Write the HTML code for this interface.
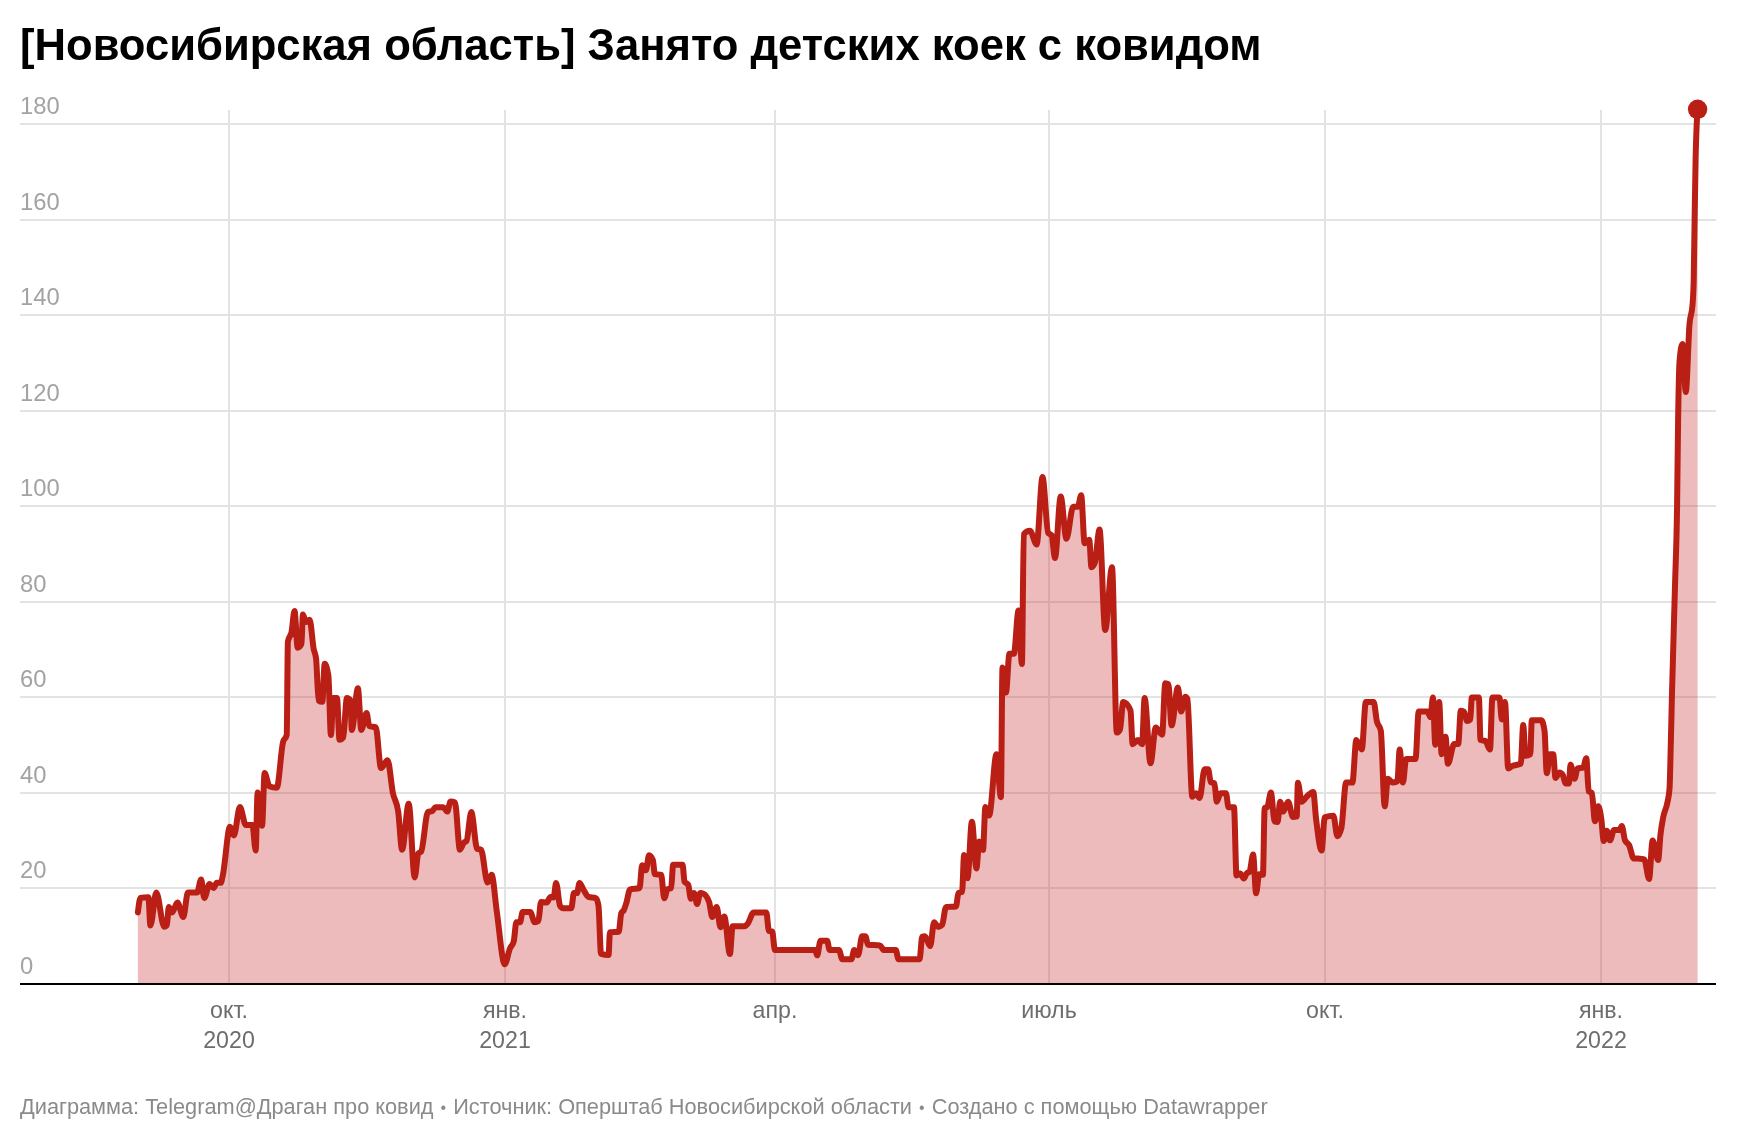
<!DOCTYPE html>
<html><head><meta charset="utf-8"><style>
html,body{margin:0;padding:0;background:#fff;}
body{width:1740px;height:1140px;overflow:hidden;}
svg{display:block;will-change:transform;}
.t{font-family:"Liberation Sans",sans-serif;font-weight:bold;font-size:43.6px;fill:#000;}
.yl text{font-family:"Liberation Sans",sans-serif;font-size:23.8px;fill:#a3a3a3;}
.xl text{font-family:"Liberation Sans",sans-serif;font-size:23.2px;fill:#6d6d6d;text-anchor:middle;}
.ft{font-family:"Liberation Sans",sans-serif;font-size:21.75px;fill:#8a8a8a;}
</style></head><body>
<svg width="1740" height="1140" viewBox="0 0 1740 1140">
<rect width="1740" height="1140" fill="#fff"/>
<text class="t" x="20" y="60">[Новосибирская область] Занято детских коек с ковидом</text>
<g class="yl"><text x="20" y="974.0">0</text><text x="20" y="878.4">20</text><text x="20" y="782.9">40</text><text x="20" y="687.3">60</text><text x="20" y="591.7">80</text><text x="20" y="496.2">100</text><text x="20" y="400.6">120</text><text x="20" y="305.0">140</text><text x="20" y="209.5">160</text><text x="20" y="113.9">180</text></g>
<g stroke="#e3e3e3" stroke-width="2" shape-rendering="crispEdges"><line x1="20" x2="1716" y1="888.4" y2="888.4"/><line x1="20" x2="1716" y1="792.9" y2="792.9"/><line x1="20" x2="1716" y1="697.3" y2="697.3"/><line x1="20" x2="1716" y1="601.7" y2="601.7"/><line x1="20" x2="1716" y1="506.2" y2="506.2"/><line x1="20" x2="1716" y1="410.6" y2="410.6"/><line x1="20" x2="1716" y1="315.0" y2="315.0"/><line x1="20" x2="1716" y1="219.5" y2="219.5"/><line x1="20" x2="1716" y1="123.9" y2="123.9"/><line x1="229" x2="229" y1="110" y2="984"/><line x1="505" x2="505" y1="110" y2="984"/><line x1="775" x2="775" y1="110" y2="984"/><line x1="1049" x2="1049" y1="110" y2="984"/><line x1="1325" x2="1325" y1="110" y2="984"/><line x1="1601" x2="1601" y1="110" y2="984"/></g>
<path d="M137.9,912.4C138.8,905.2 139.6,898.1 140.5,897.9C143.1,897.4 145.8,897.2 148.4,897.2C149.1,897.2 149.7,925.5 150.4,925.5C152.4,925.5 154.3,892.6 156.3,892.6C158.9,892.6 161.6,926.8 164.2,926.8C165.1,926.8 165.9,926.4 166.8,925.5C167.5,924.8 168.1,907.1 168.8,907.1C169.9,907.1 171.0,912.4 172.1,912.4C173.9,912.4 175.6,902.5 177.4,902.5C179.4,902.5 181.3,917.0 183.3,917.0C184.8,917.0 186.4,892.6 187.9,892.6C191.0,892.6 194.0,892.6 197.1,892.6C198.4,892.6 199.8,879.5 201.1,879.5C202.2,879.5 203.2,897.9 204.3,897.9C206.1,897.9 207.8,884.1 209.6,884.1C210.9,884.1 212.3,888.0 213.6,888.0C214.7,888.0 215.7,882.8 216.8,882.8C218.1,882.8 219.5,882.8 220.8,882.8C221.5,882.8 222.1,878.4 222.8,875.5C225.2,865.1 227.6,826.8 230.0,826.8C231.3,826.8 232.6,835.4 233.9,835.4C235.9,835.4 237.9,807.1 239.9,807.1C241.9,807.1 243.8,824.9 245.8,824.9C248.0,824.9 250.2,824.9 252.4,824.9C253.5,824.9 254.6,850.5 255.7,850.5C256.3,850.5 257.0,792.6 257.6,792.6C259.1,792.6 260.6,825.8 262.1,825.8C262.9,825.8 263.8,773.0 264.6,773.0C266.2,773.0 267.9,786.0 269.5,786.5C271.9,787.3 274.4,787.7 276.8,787.7C278.9,787.7 280.9,750.5 283.0,742.3C284.2,737.4 285.5,739.9 286.7,735.0C287.1,733.4 287.5,643.7 287.9,641.6C289.1,635.1 290.4,638.2 291.6,631.8C292.6,626.8 293.5,610.9 294.5,610.9C295.6,610.9 296.6,647.7 297.7,647.7C298.9,647.7 300.2,646.5 301.4,644.0C301.9,643.0 302.4,614.6 302.9,614.6C303.9,614.6 304.9,622.1 305.9,622.1C307.1,622.1 308.4,619.8 309.6,619.8C311.0,619.8 312.3,641.9 313.7,649.0C314.5,653.2 315.3,652.3 316.1,658.8C316.9,665.6 317.8,699.9 318.6,700.5C319.8,701.4 321.1,701.8 322.3,701.8C323.1,701.8 323.9,663.7 324.7,663.7C325.9,663.7 327.2,667.8 328.4,676.0C329.2,681.5 330.1,735.0 330.9,735.0C331.7,735.0 332.5,698.0 333.3,698.0C334.5,698.0 335.8,698.0 337.0,698.0C337.8,698.0 338.7,739.8 339.5,739.8C340.7,739.8 342.0,739.0 343.2,737.4C344.4,735.8 345.7,698.0 346.9,698.0C348.1,698.0 349.3,698.8 350.5,700.5C350.9,701.1 351.4,730.0 351.8,730.0C353.8,730.0 355.9,688.3 357.9,688.3C359.0,688.3 360.2,730.0 361.3,730.0C363.1,730.0 364.8,712.9 366.6,712.9C367.5,712.9 368.3,725.6 369.2,726.0C371.4,726.9 373.6,726.5 375.8,727.4C377.5,728.1 379.3,768.0 381.0,768.0C383.2,768.0 385.4,760.3 387.6,760.3C389.4,760.3 391.1,784.5 392.9,793.0C394.7,801.6 396.4,799.2 398.2,811.6C399.5,820.7 400.8,849.7 402.1,849.7C404.3,849.7 406.5,803.7 408.7,803.7C410.7,803.7 412.7,877.4 414.7,877.4C415.9,877.4 417.1,855.2 418.3,853.5C419.3,852.2 420.2,852.8 421.2,851.5C423.4,848.4 425.7,813.1 427.9,812.1C429.3,811.4 430.8,811.8 432.2,811.1C433.3,810.6 434.5,807.3 435.6,807.3C438.2,807.3 440.7,807.3 443.3,807.3C444.6,807.3 445.9,811.6 447.2,811.6C448.3,811.6 449.5,801.5 450.6,801.5C452.1,801.5 453.5,801.8 455.0,802.5C456.6,803.2 458.3,849.7 459.9,849.7C461.3,849.7 462.6,843.9 464.0,842.5C464.8,841.7 465.7,842.0 466.5,841.1C468.1,839.3 469.7,812.1 471.3,812.1C473.2,812.1 475.2,847.9 477.1,848.8C478.4,849.4 479.7,849.1 481.0,849.7C483.2,850.7 485.4,882.6 487.6,882.6C488.9,882.6 490.3,874.7 491.6,874.7C493.3,874.7 495.1,899.6 496.8,911.6C499.4,929.8 502.1,964.2 504.7,964.2C506.5,964.2 508.2,952.5 510.0,948.4C511.3,945.4 512.5,946.0 513.8,941.2C514.6,938.0 515.5,922.2 516.3,922.2C517.6,922.2 518.8,922.2 520.1,922.2C520.9,922.2 521.8,912.0 522.6,912.0C525.1,912.0 527.7,912.0 530.2,912.0C531.7,912.0 533.2,922.2 534.7,922.2C535.9,922.2 537.2,921.8 538.4,920.9C539.3,920.3 540.1,902.0 541.0,902.0C542.9,902.0 544.8,902.6 546.7,902.6C548.0,902.6 549.2,896.9 550.5,896.9C551.5,896.9 552.6,897.5 553.6,897.5C554.4,897.5 555.3,883.0 556.1,883.0C557.4,883.0 558.7,903.5 560.0,905.7C561.0,907.4 562.1,908.3 563.1,908.3C565.8,908.3 568.6,908.3 571.3,908.3C572.2,908.3 573.0,893.1 573.9,893.1C574.9,893.1 576.0,893.1 577.0,893.1C577.8,893.1 578.7,883.0 579.5,883.0C580.8,883.0 582.0,887.3 583.3,889.3C585.0,892.0 586.7,896.3 588.4,896.9C590.9,897.8 593.5,897.3 596.0,898.2C596.8,898.5 597.7,900.7 598.5,905.7C599.3,910.7 600.2,953.5 601.0,953.8C603.5,954.6 606.1,955.0 608.6,955.0C609.0,955.0 609.5,932.4 609.9,932.3C612.8,931.9 615.8,932.1 618.7,931.7C619.6,931.6 620.4,915.4 621.3,913.3C622.1,911.2 623.0,911.9 623.8,910.2C624.6,908.5 625.5,905.8 626.3,903.2C627.6,899.2 628.8,889.6 630.1,889.3C633.3,888.4 636.4,888.9 639.6,888.0C640.4,887.8 641.3,865.3 642.1,865.3C643.4,865.3 644.6,870.3 645.9,870.3C647.0,870.3 648.0,855.2 649.1,855.2C650.4,855.2 651.6,856.9 652.9,860.2C653.5,861.9 654.2,874.0 654.8,874.1C656.9,874.6 659.0,874.3 661.1,874.8C662.2,875.0 663.2,898.2 664.3,898.2C665.3,898.2 666.4,890.0 667.4,889.3C668.7,888.4 669.9,888.9 671.2,888.0C671.8,887.6 672.5,864.7 673.1,864.7C676.3,864.7 679.4,864.7 682.6,864.7C683.2,864.7 683.9,880.6 684.5,881.7C685.8,883.8 687.0,882.8 688.3,884.9C689.1,886.3 690.0,898.8 690.8,898.8C691.9,898.8 692.9,893.1 694.0,893.1C695.0,893.1 696.1,903.9 697.1,903.9C698.2,903.9 699.2,893.1 700.3,893.1C701.4,893.1 702.4,893.3 703.5,893.7C705.4,894.4 707.2,896.5 709.1,902.0C710.2,905.2 711.2,917.1 712.3,917.1C713.8,917.1 715.2,907.0 716.7,907.0C718.0,907.0 719.2,927.2 720.5,927.2C721.8,927.2 723.0,916.5 724.3,916.5C726.2,916.5 728.0,954.0 729.9,954.0C730.8,954.0 731.7,926.3 732.6,926.3C736.6,926.3 740.5,926.3 744.5,926.3C745.6,926.3 746.7,924.9 747.8,923.6C749.8,921.2 751.7,912.4 753.7,912.4C757.9,912.4 762.1,912.4 766.3,912.4C767.2,912.4 768.0,930.5 768.9,930.9C770.0,931.4 771.1,931.1 772.2,931.6C773.1,932.0 774.0,950.1 774.9,950.1C788.3,950.1 801.8,950.1 815.2,950.1C815.9,950.1 816.5,955.3 817.2,955.3C818.3,955.3 819.4,940.8 820.5,940.8C822.7,940.8 824.9,940.8 827.1,940.8C828.0,940.8 828.8,950.1 829.7,950.1C832.8,950.1 835.9,950.1 839.0,950.1C840.1,950.1 841.2,959.3 842.3,959.3C845.4,959.3 848.4,959.3 851.5,959.3C852.4,959.3 853.3,950.1 854.2,950.1C855.5,950.1 856.8,955.3 858.1,955.3C859.4,955.3 860.8,936.2 862.1,936.2C863.2,936.2 864.3,936.2 865.4,936.2C866.3,936.2 867.1,944.7 868.0,944.8C872.0,945.2 876.0,945.0 880.0,945.4C881.3,945.5 882.6,950.1 883.9,950.1C887.9,950.1 891.8,950.1 895.8,950.1C896.7,950.1 897.6,959.3 898.5,959.3C905.5,959.3 912.6,959.3 919.6,959.3C920.5,959.3 921.3,937.2 922.2,936.8C923.1,936.4 924.0,936.2 924.9,936.2C926.7,936.2 928.4,946.1 930.2,946.1C931.5,946.1 932.8,922.3 934.1,922.3C935.4,922.3 936.8,926.9 938.1,926.9C939.4,926.9 940.8,926.2 942.1,924.9C943.4,923.6 944.7,907.3 946.0,907.1C949.3,906.7 952.7,906.9 956.0,906.5C956.8,906.4 957.6,893.5 958.4,893.0C959.6,892.2 960.9,892.6 962.1,891.8C962.8,891.4 963.4,855.0 964.1,855.0C965.2,855.0 966.4,878.3 967.5,878.3C969.0,878.3 970.4,821.8 971.9,821.8C973.4,821.8 974.9,868.4 976.4,868.4C977.4,868.4 978.3,841.4 979.3,841.4C980.5,841.4 981.8,850.0 983.0,850.0C983.8,850.0 984.6,807.0 985.4,807.0C986.6,807.0 987.9,815.6 989.1,815.6C991.6,815.6 994.0,754.2 996.5,754.2C998.0,754.2 999.4,797.2 1000.9,797.2C1001.4,797.2 1002.0,667.5 1002.5,667.5C1003.7,667.5 1004.8,692.6 1006.0,692.6C1007.1,692.6 1008.3,653.8 1009.4,653.8C1010.9,653.8 1012.4,653.8 1013.9,653.8C1015.4,653.8 1017.0,610.5 1018.5,610.5C1019.6,610.5 1020.8,664.1 1021.9,664.1C1022.5,664.1 1023.2,534.8 1023.8,534.1C1025.8,531.8 1027.9,530.7 1029.9,530.7C1032.2,530.7 1034.4,544.4 1036.7,544.4C1038.6,544.4 1040.6,477.1 1042.5,477.1C1044.4,477.1 1046.3,530.4 1048.2,533.0C1049.3,534.5 1050.5,533.8 1051.6,535.3C1052.7,536.8 1053.9,558.1 1055.0,558.1C1056.9,558.1 1058.8,496.5 1060.7,496.5C1062.6,496.5 1064.5,538.7 1066.4,538.7C1068.7,538.7 1070.9,506.8 1073.2,506.8C1074.7,506.8 1076.3,506.8 1077.8,506.8C1078.9,506.8 1080.1,495.3 1081.2,495.3C1082.3,495.3 1083.5,543.2 1084.6,543.2C1086.1,543.2 1087.7,539.8 1089.2,539.8C1090.0,539.8 1090.7,567.2 1091.5,567.2C1092.6,567.2 1093.8,565.7 1094.9,562.6C1096.4,558.5 1098.0,529.6 1099.5,529.6C1101.4,529.6 1103.3,629.9 1105.2,629.9C1107.5,629.9 1109.7,567.2 1112.0,567.2C1113.6,567.2 1115.2,732.6 1116.8,732.6C1117.9,732.6 1118.9,731.6 1120.0,729.5C1121.1,727.4 1122.1,702.1 1123.2,702.1C1125.6,702.1 1128.1,704.9 1130.5,710.5C1131.2,712.1 1131.9,744.2 1132.6,744.2C1134.4,744.2 1136.1,740.0 1137.9,740.0C1139.3,740.0 1140.7,744.2 1142.1,744.2C1142.9,744.2 1143.8,697.9 1144.6,697.9C1146.6,697.9 1148.5,763.2 1150.5,763.2C1152.3,763.2 1154.0,727.4 1155.8,727.4C1157.9,727.4 1160.0,734.7 1162.1,734.7C1163.2,734.7 1164.2,683.2 1165.3,683.2C1166.3,683.2 1167.4,683.5 1168.4,684.2C1169.5,684.9 1170.5,725.3 1171.6,725.3C1173.7,725.3 1175.8,687.4 1177.9,687.4C1179.0,687.4 1180.0,711.6 1181.1,711.6C1182.5,711.6 1183.9,696.8 1185.3,696.8C1186.0,696.8 1186.7,697.5 1187.4,699.0C1189.0,702.4 1190.7,796.8 1192.3,796.8C1193.5,796.8 1194.8,793.2 1196.0,793.2C1197.2,793.2 1198.4,798.0 1199.6,798.0C1201.3,798.0 1202.9,769.2 1204.6,769.2C1205.8,769.2 1207.0,769.2 1208.2,769.2C1209.0,769.2 1209.9,781.6 1210.7,782.1C1211.9,782.9 1213.2,782.5 1214.4,783.3C1215.2,783.8 1216.0,801.8 1216.8,801.8C1218.0,801.8 1219.3,793.2 1220.5,793.2C1222.3,793.2 1224.2,793.2 1226.0,793.2C1226.8,793.2 1227.7,807.3 1228.5,807.3C1230.3,807.3 1232.2,807.3 1234.0,807.3C1234.8,807.3 1235.7,875.4 1236.5,875.4C1237.7,875.4 1239.0,873.6 1240.2,873.6C1241.4,873.6 1242.7,878.5 1243.9,878.5C1244.9,878.5 1245.9,873.8 1246.9,873.0C1247.8,872.3 1248.6,872.7 1249.5,872.0C1250.7,871.1 1251.9,854.6 1253.1,854.6C1254.1,854.6 1255.1,893.2 1256.1,893.2C1257.1,893.2 1258.2,874.2 1259.2,874.2C1260.4,874.2 1261.7,874.8 1262.9,874.8C1263.5,874.8 1264.1,808.2 1264.7,807.9C1265.5,807.5 1266.4,807.7 1267.2,807.3C1268.4,806.7 1269.7,792.5 1270.9,792.5C1272.1,792.5 1273.4,820.9 1274.6,821.4C1275.6,821.8 1276.6,822.0 1277.6,822.0C1278.4,822.0 1279.3,801.8 1280.1,801.8C1281.1,801.8 1282.2,811.6 1283.2,811.6C1284.8,811.6 1286.5,801.8 1288.1,801.8C1289.7,801.8 1291.4,817.1 1293.0,817.1C1294.2,817.1 1295.5,816.9 1296.7,816.5C1297.1,816.4 1297.5,782.7 1297.9,782.7C1299.1,782.7 1300.4,801.8 1301.6,801.8C1303.6,801.8 1305.7,797.3 1307.7,795.6C1309.5,794.1 1311.4,791.9 1313.2,791.9C1314.2,791.9 1315.1,811.2 1316.1,819.0C1317.9,833.8 1319.8,850.5 1321.6,850.5C1322.6,850.5 1323.7,817.8 1324.7,817.4C1327.6,816.3 1330.5,815.8 1333.4,815.8C1334.7,815.8 1336.1,836.3 1337.4,836.3C1338.7,836.3 1340.0,833.7 1341.3,828.4C1342.9,821.9 1344.5,782.6 1346.1,782.6C1348.2,782.6 1350.3,782.6 1352.4,782.6C1353.7,782.6 1355.0,740.0 1356.3,740.0C1358.1,740.0 1360.0,749.5 1361.8,749.5C1363.1,749.5 1364.5,702.1 1365.8,702.1C1368.4,702.1 1371.1,702.1 1373.7,702.1C1374.7,702.1 1375.8,716.4 1376.8,721.0C1378.1,727.0 1379.5,724.2 1380.8,730.5C1382.1,736.7 1383.4,806.3 1384.7,806.3C1385.8,806.3 1386.8,778.7 1387.9,778.7C1389.5,778.7 1391.0,782.6 1392.6,782.6C1394.2,782.6 1395.8,782.1 1397.4,781.1C1398.2,780.6 1398.9,749.5 1399.7,749.5C1400.8,749.5 1401.8,782.6 1402.9,782.6C1404.0,782.6 1405.0,759.0 1406.1,759.0C1409.2,759.0 1412.4,759.0 1415.5,759.0C1416.6,759.0 1417.6,711.6 1418.7,711.6C1421.6,711.6 1424.5,711.6 1427.4,711.6C1428.4,711.6 1429.5,717.1 1430.5,717.1C1431.3,717.1 1432.1,697.4 1432.9,697.4C1433.7,697.4 1434.5,744.7 1435.3,744.7C1436.6,744.7 1437.9,702.1 1439.2,702.1C1440.0,702.1 1440.8,754.2 1441.6,754.2C1442.9,754.2 1444.2,736.8 1445.5,736.8C1446.3,736.8 1447.1,763.7 1447.9,763.7C1450.0,763.7 1452.1,744.0 1454.2,744.0C1455.5,744.0 1456.9,744.0 1458.2,744.0C1459.1,744.0 1459.9,710.8 1460.8,710.8C1461.8,710.8 1462.9,711.1 1463.9,711.6C1465.0,712.2 1466.0,721.0 1467.1,721.0C1468.2,721.0 1469.2,720.5 1470.3,719.5C1470.8,719.0 1471.3,697.4 1471.8,697.4C1474.2,697.4 1476.5,697.4 1478.9,697.4C1479.4,697.4 1480.0,739.8 1480.5,740.0C1482.1,740.5 1483.7,740.3 1485.3,740.8C1486.9,741.3 1488.4,749.5 1490.0,749.5C1490.8,749.5 1491.6,697.4 1492.4,697.4C1494.8,697.4 1497.1,697.4 1499.5,697.4C1500.3,697.4 1501.0,719.5 1501.8,719.5C1502.9,719.5 1503.9,702.1 1505.0,702.1C1506.1,702.1 1507.1,768.4 1508.2,768.4C1509.5,768.4 1510.8,766.7 1512.1,766.1C1515.0,764.7 1517.9,765.3 1520.8,763.7C1521.6,763.3 1522.4,725.0 1523.2,725.0C1524.0,725.0 1524.7,755.8 1525.5,755.8C1527.1,755.8 1528.7,755.3 1530.3,754.2C1530.8,753.9 1531.3,720.3 1531.8,720.3C1535.0,720.3 1538.1,720.3 1541.3,720.3C1542.4,720.3 1543.4,723.7 1544.5,730.5C1545.3,735.4 1546.0,773.2 1546.8,773.2C1547.9,773.2 1548.9,754.2 1550.0,754.2C1551.1,754.2 1552.1,754.2 1553.2,754.2C1554.0,754.2 1554.7,777.9 1555.5,777.9C1556.8,777.9 1558.2,772.4 1559.5,772.4C1560.5,772.4 1561.6,773.2 1562.6,774.7C1563.7,776.3 1564.7,783.4 1565.8,783.4C1566.9,783.4 1567.9,783.4 1569.0,783.4C1569.5,783.4 1570.0,764.5 1570.5,764.5C1571.8,764.5 1573.2,778.7 1574.5,778.7C1575.5,778.7 1576.6,768.7 1577.6,768.4C1579.5,767.9 1581.3,768.1 1583.2,767.6C1584.2,767.3 1585.3,758.2 1586.3,758.2C1587.1,758.2 1587.9,790.5 1588.7,791.3C1589.7,792.4 1590.8,791.8 1591.8,792.9C1592.9,794.0 1593.9,821.3 1595.0,821.3C1596.1,821.3 1597.1,806.3 1598.2,806.3C1599.2,806.3 1600.3,811.8 1601.3,819.0C1602.1,824.6 1602.9,841.1 1603.7,841.1C1604.7,841.1 1605.8,830.8 1606.8,830.8C1607.9,830.8 1608.9,840.3 1610.0,840.3C1611.3,840.3 1612.7,830.0 1614.0,830.0C1615.8,830.0 1617.7,830.0 1619.5,830.0C1620.3,830.0 1621.0,826.1 1621.8,826.1C1622.9,826.1 1623.9,837.8 1625.0,840.3C1626.3,843.4 1627.7,842.4 1629.0,845.0C1630.6,848.0 1632.1,858.3 1633.7,858.4C1635.1,858.5 1636.5,858.5 1637.9,858.6C1640.0,858.8 1642.1,858.8 1644.2,859.3C1645.8,859.7 1647.5,878.9 1649.1,878.9C1650.3,878.9 1651.4,840.4 1652.6,840.4C1654.5,840.4 1656.3,860.0 1658.2,860.0C1658.9,860.0 1659.7,842.1 1660.4,835.4C1661.3,826.9 1662.3,822.1 1663.2,817.2C1664.6,809.8 1666.0,810.1 1667.4,802.5C1668.1,798.7 1668.8,798.0 1669.5,789.1C1670.0,783.1 1670.4,758.5 1670.9,740.0C1671.2,726.8 1671.6,710.8 1671.9,697.0C1673.0,653.0 1674.0,622.6 1675.1,582.5C1675.8,557.4 1676.4,550.9 1677.1,505.0C1677.4,482.0 1677.8,443.2 1678.1,421.0C1678.6,387.7 1679.1,366.2 1679.6,360.5C1680.6,349.4 1681.5,343.9 1682.5,343.9C1683.6,343.9 1684.7,392.0 1685.8,392.0C1687.0,392.0 1688.3,338.7 1689.5,324.2C1690.5,312.5 1691.5,317.8 1692.5,305.0C1692.9,299.9 1693.3,296.7 1693.7,280.0C1694.0,267.5 1694.3,239.1 1694.6,220.0C1694.9,198.8 1695.3,176.2 1695.6,160.0C1696.3,127.7 1696.9,118.5 1697.6,109.3L1697.6,984L137.9,984Z" fill="#c72b2b" fill-opacity="0.32"/>
<line x1="20" x2="1716" y1="984" y2="984" stroke="#000" stroke-width="2.2"/>
<path d="M137.9,912.4C138.8,905.2 139.6,898.1 140.5,897.9C143.1,897.4 145.8,897.2 148.4,897.2C149.1,897.2 149.7,925.5 150.4,925.5C152.4,925.5 154.3,892.6 156.3,892.6C158.9,892.6 161.6,926.8 164.2,926.8C165.1,926.8 165.9,926.4 166.8,925.5C167.5,924.8 168.1,907.1 168.8,907.1C169.9,907.1 171.0,912.4 172.1,912.4C173.9,912.4 175.6,902.5 177.4,902.5C179.4,902.5 181.3,917.0 183.3,917.0C184.8,917.0 186.4,892.6 187.9,892.6C191.0,892.6 194.0,892.6 197.1,892.6C198.4,892.6 199.8,879.5 201.1,879.5C202.2,879.5 203.2,897.9 204.3,897.9C206.1,897.9 207.8,884.1 209.6,884.1C210.9,884.1 212.3,888.0 213.6,888.0C214.7,888.0 215.7,882.8 216.8,882.8C218.1,882.8 219.5,882.8 220.8,882.8C221.5,882.8 222.1,878.4 222.8,875.5C225.2,865.1 227.6,826.8 230.0,826.8C231.3,826.8 232.6,835.4 233.9,835.4C235.9,835.4 237.9,807.1 239.9,807.1C241.9,807.1 243.8,824.9 245.8,824.9C248.0,824.9 250.2,824.9 252.4,824.9C253.5,824.9 254.6,850.5 255.7,850.5C256.3,850.5 257.0,792.6 257.6,792.6C259.1,792.6 260.6,825.8 262.1,825.8C262.9,825.8 263.8,773.0 264.6,773.0C266.2,773.0 267.9,786.0 269.5,786.5C271.9,787.3 274.4,787.7 276.8,787.7C278.9,787.7 280.9,750.5 283.0,742.3C284.2,737.4 285.5,739.9 286.7,735.0C287.1,733.4 287.5,643.7 287.9,641.6C289.1,635.1 290.4,638.2 291.6,631.8C292.6,626.8 293.5,610.9 294.5,610.9C295.6,610.9 296.6,647.7 297.7,647.7C298.9,647.7 300.2,646.5 301.4,644.0C301.9,643.0 302.4,614.6 302.9,614.6C303.9,614.6 304.9,622.1 305.9,622.1C307.1,622.1 308.4,619.8 309.6,619.8C311.0,619.8 312.3,641.9 313.7,649.0C314.5,653.2 315.3,652.3 316.1,658.8C316.9,665.6 317.8,699.9 318.6,700.5C319.8,701.4 321.1,701.8 322.3,701.8C323.1,701.8 323.9,663.7 324.7,663.7C325.9,663.7 327.2,667.8 328.4,676.0C329.2,681.5 330.1,735.0 330.9,735.0C331.7,735.0 332.5,698.0 333.3,698.0C334.5,698.0 335.8,698.0 337.0,698.0C337.8,698.0 338.7,739.8 339.5,739.8C340.7,739.8 342.0,739.0 343.2,737.4C344.4,735.8 345.7,698.0 346.9,698.0C348.1,698.0 349.3,698.8 350.5,700.5C350.9,701.1 351.4,730.0 351.8,730.0C353.8,730.0 355.9,688.3 357.9,688.3C359.0,688.3 360.2,730.0 361.3,730.0C363.1,730.0 364.8,712.9 366.6,712.9C367.5,712.9 368.3,725.6 369.2,726.0C371.4,726.9 373.6,726.5 375.8,727.4C377.5,728.1 379.3,768.0 381.0,768.0C383.2,768.0 385.4,760.3 387.6,760.3C389.4,760.3 391.1,784.5 392.9,793.0C394.7,801.6 396.4,799.2 398.2,811.6C399.5,820.7 400.8,849.7 402.1,849.7C404.3,849.7 406.5,803.7 408.7,803.7C410.7,803.7 412.7,877.4 414.7,877.4C415.9,877.4 417.1,855.2 418.3,853.5C419.3,852.2 420.2,852.8 421.2,851.5C423.4,848.4 425.7,813.1 427.9,812.1C429.3,811.4 430.8,811.8 432.2,811.1C433.3,810.6 434.5,807.3 435.6,807.3C438.2,807.3 440.7,807.3 443.3,807.3C444.6,807.3 445.9,811.6 447.2,811.6C448.3,811.6 449.5,801.5 450.6,801.5C452.1,801.5 453.5,801.8 455.0,802.5C456.6,803.2 458.3,849.7 459.9,849.7C461.3,849.7 462.6,843.9 464.0,842.5C464.8,841.7 465.7,842.0 466.5,841.1C468.1,839.3 469.7,812.1 471.3,812.1C473.2,812.1 475.2,847.9 477.1,848.8C478.4,849.4 479.7,849.1 481.0,849.7C483.2,850.7 485.4,882.6 487.6,882.6C488.9,882.6 490.3,874.7 491.6,874.7C493.3,874.7 495.1,899.6 496.8,911.6C499.4,929.8 502.1,964.2 504.7,964.2C506.5,964.2 508.2,952.5 510.0,948.4C511.3,945.4 512.5,946.0 513.8,941.2C514.6,938.0 515.5,922.2 516.3,922.2C517.6,922.2 518.8,922.2 520.1,922.2C520.9,922.2 521.8,912.0 522.6,912.0C525.1,912.0 527.7,912.0 530.2,912.0C531.7,912.0 533.2,922.2 534.7,922.2C535.9,922.2 537.2,921.8 538.4,920.9C539.3,920.3 540.1,902.0 541.0,902.0C542.9,902.0 544.8,902.6 546.7,902.6C548.0,902.6 549.2,896.9 550.5,896.9C551.5,896.9 552.6,897.5 553.6,897.5C554.4,897.5 555.3,883.0 556.1,883.0C557.4,883.0 558.7,903.5 560.0,905.7C561.0,907.4 562.1,908.3 563.1,908.3C565.8,908.3 568.6,908.3 571.3,908.3C572.2,908.3 573.0,893.1 573.9,893.1C574.9,893.1 576.0,893.1 577.0,893.1C577.8,893.1 578.7,883.0 579.5,883.0C580.8,883.0 582.0,887.3 583.3,889.3C585.0,892.0 586.7,896.3 588.4,896.9C590.9,897.8 593.5,897.3 596.0,898.2C596.8,898.5 597.7,900.7 598.5,905.7C599.3,910.7 600.2,953.5 601.0,953.8C603.5,954.6 606.1,955.0 608.6,955.0C609.0,955.0 609.5,932.4 609.9,932.3C612.8,931.9 615.8,932.1 618.7,931.7C619.6,931.6 620.4,915.4 621.3,913.3C622.1,911.2 623.0,911.9 623.8,910.2C624.6,908.5 625.5,905.8 626.3,903.2C627.6,899.2 628.8,889.6 630.1,889.3C633.3,888.4 636.4,888.9 639.6,888.0C640.4,887.8 641.3,865.3 642.1,865.3C643.4,865.3 644.6,870.3 645.9,870.3C647.0,870.3 648.0,855.2 649.1,855.2C650.4,855.2 651.6,856.9 652.9,860.2C653.5,861.9 654.2,874.0 654.8,874.1C656.9,874.6 659.0,874.3 661.1,874.8C662.2,875.0 663.2,898.2 664.3,898.2C665.3,898.2 666.4,890.0 667.4,889.3C668.7,888.4 669.9,888.9 671.2,888.0C671.8,887.6 672.5,864.7 673.1,864.7C676.3,864.7 679.4,864.7 682.6,864.7C683.2,864.7 683.9,880.6 684.5,881.7C685.8,883.8 687.0,882.8 688.3,884.9C689.1,886.3 690.0,898.8 690.8,898.8C691.9,898.8 692.9,893.1 694.0,893.1C695.0,893.1 696.1,903.9 697.1,903.9C698.2,903.9 699.2,893.1 700.3,893.1C701.4,893.1 702.4,893.3 703.5,893.7C705.4,894.4 707.2,896.5 709.1,902.0C710.2,905.2 711.2,917.1 712.3,917.1C713.8,917.1 715.2,907.0 716.7,907.0C718.0,907.0 719.2,927.2 720.5,927.2C721.8,927.2 723.0,916.5 724.3,916.5C726.2,916.5 728.0,954.0 729.9,954.0C730.8,954.0 731.7,926.3 732.6,926.3C736.6,926.3 740.5,926.3 744.5,926.3C745.6,926.3 746.7,924.9 747.8,923.6C749.8,921.2 751.7,912.4 753.7,912.4C757.9,912.4 762.1,912.4 766.3,912.4C767.2,912.4 768.0,930.5 768.9,930.9C770.0,931.4 771.1,931.1 772.2,931.6C773.1,932.0 774.0,950.1 774.9,950.1C788.3,950.1 801.8,950.1 815.2,950.1C815.9,950.1 816.5,955.3 817.2,955.3C818.3,955.3 819.4,940.8 820.5,940.8C822.7,940.8 824.9,940.8 827.1,940.8C828.0,940.8 828.8,950.1 829.7,950.1C832.8,950.1 835.9,950.1 839.0,950.1C840.1,950.1 841.2,959.3 842.3,959.3C845.4,959.3 848.4,959.3 851.5,959.3C852.4,959.3 853.3,950.1 854.2,950.1C855.5,950.1 856.8,955.3 858.1,955.3C859.4,955.3 860.8,936.2 862.1,936.2C863.2,936.2 864.3,936.2 865.4,936.2C866.3,936.2 867.1,944.7 868.0,944.8C872.0,945.2 876.0,945.0 880.0,945.4C881.3,945.5 882.6,950.1 883.9,950.1C887.9,950.1 891.8,950.1 895.8,950.1C896.7,950.1 897.6,959.3 898.5,959.3C905.5,959.3 912.6,959.3 919.6,959.3C920.5,959.3 921.3,937.2 922.2,936.8C923.1,936.4 924.0,936.2 924.9,936.2C926.7,936.2 928.4,946.1 930.2,946.1C931.5,946.1 932.8,922.3 934.1,922.3C935.4,922.3 936.8,926.9 938.1,926.9C939.4,926.9 940.8,926.2 942.1,924.9C943.4,923.6 944.7,907.3 946.0,907.1C949.3,906.7 952.7,906.9 956.0,906.5C956.8,906.4 957.6,893.5 958.4,893.0C959.6,892.2 960.9,892.6 962.1,891.8C962.8,891.4 963.4,855.0 964.1,855.0C965.2,855.0 966.4,878.3 967.5,878.3C969.0,878.3 970.4,821.8 971.9,821.8C973.4,821.8 974.9,868.4 976.4,868.4C977.4,868.4 978.3,841.4 979.3,841.4C980.5,841.4 981.8,850.0 983.0,850.0C983.8,850.0 984.6,807.0 985.4,807.0C986.6,807.0 987.9,815.6 989.1,815.6C991.6,815.6 994.0,754.2 996.5,754.2C998.0,754.2 999.4,797.2 1000.9,797.2C1001.4,797.2 1002.0,667.5 1002.5,667.5C1003.7,667.5 1004.8,692.6 1006.0,692.6C1007.1,692.6 1008.3,653.8 1009.4,653.8C1010.9,653.8 1012.4,653.8 1013.9,653.8C1015.4,653.8 1017.0,610.5 1018.5,610.5C1019.6,610.5 1020.8,664.1 1021.9,664.1C1022.5,664.1 1023.2,534.8 1023.8,534.1C1025.8,531.8 1027.9,530.7 1029.9,530.7C1032.2,530.7 1034.4,544.4 1036.7,544.4C1038.6,544.4 1040.6,477.1 1042.5,477.1C1044.4,477.1 1046.3,530.4 1048.2,533.0C1049.3,534.5 1050.5,533.8 1051.6,535.3C1052.7,536.8 1053.9,558.1 1055.0,558.1C1056.9,558.1 1058.8,496.5 1060.7,496.5C1062.6,496.5 1064.5,538.7 1066.4,538.7C1068.7,538.7 1070.9,506.8 1073.2,506.8C1074.7,506.8 1076.3,506.8 1077.8,506.8C1078.9,506.8 1080.1,495.3 1081.2,495.3C1082.3,495.3 1083.5,543.2 1084.6,543.2C1086.1,543.2 1087.7,539.8 1089.2,539.8C1090.0,539.8 1090.7,567.2 1091.5,567.2C1092.6,567.2 1093.8,565.7 1094.9,562.6C1096.4,558.5 1098.0,529.6 1099.5,529.6C1101.4,529.6 1103.3,629.9 1105.2,629.9C1107.5,629.9 1109.7,567.2 1112.0,567.2C1113.6,567.2 1115.2,732.6 1116.8,732.6C1117.9,732.6 1118.9,731.6 1120.0,729.5C1121.1,727.4 1122.1,702.1 1123.2,702.1C1125.6,702.1 1128.1,704.9 1130.5,710.5C1131.2,712.1 1131.9,744.2 1132.6,744.2C1134.4,744.2 1136.1,740.0 1137.9,740.0C1139.3,740.0 1140.7,744.2 1142.1,744.2C1142.9,744.2 1143.8,697.9 1144.6,697.9C1146.6,697.9 1148.5,763.2 1150.5,763.2C1152.3,763.2 1154.0,727.4 1155.8,727.4C1157.9,727.4 1160.0,734.7 1162.1,734.7C1163.2,734.7 1164.2,683.2 1165.3,683.2C1166.3,683.2 1167.4,683.5 1168.4,684.2C1169.5,684.9 1170.5,725.3 1171.6,725.3C1173.7,725.3 1175.8,687.4 1177.9,687.4C1179.0,687.4 1180.0,711.6 1181.1,711.6C1182.5,711.6 1183.9,696.8 1185.3,696.8C1186.0,696.8 1186.7,697.5 1187.4,699.0C1189.0,702.4 1190.7,796.8 1192.3,796.8C1193.5,796.8 1194.8,793.2 1196.0,793.2C1197.2,793.2 1198.4,798.0 1199.6,798.0C1201.3,798.0 1202.9,769.2 1204.6,769.2C1205.8,769.2 1207.0,769.2 1208.2,769.2C1209.0,769.2 1209.9,781.6 1210.7,782.1C1211.9,782.9 1213.2,782.5 1214.4,783.3C1215.2,783.8 1216.0,801.8 1216.8,801.8C1218.0,801.8 1219.3,793.2 1220.5,793.2C1222.3,793.2 1224.2,793.2 1226.0,793.2C1226.8,793.2 1227.7,807.3 1228.5,807.3C1230.3,807.3 1232.2,807.3 1234.0,807.3C1234.8,807.3 1235.7,875.4 1236.5,875.4C1237.7,875.4 1239.0,873.6 1240.2,873.6C1241.4,873.6 1242.7,878.5 1243.9,878.5C1244.9,878.5 1245.9,873.8 1246.9,873.0C1247.8,872.3 1248.6,872.7 1249.5,872.0C1250.7,871.1 1251.9,854.6 1253.1,854.6C1254.1,854.6 1255.1,893.2 1256.1,893.2C1257.1,893.2 1258.2,874.2 1259.2,874.2C1260.4,874.2 1261.7,874.8 1262.9,874.8C1263.5,874.8 1264.1,808.2 1264.7,807.9C1265.5,807.5 1266.4,807.7 1267.2,807.3C1268.4,806.7 1269.7,792.5 1270.9,792.5C1272.1,792.5 1273.4,820.9 1274.6,821.4C1275.6,821.8 1276.6,822.0 1277.6,822.0C1278.4,822.0 1279.3,801.8 1280.1,801.8C1281.1,801.8 1282.2,811.6 1283.2,811.6C1284.8,811.6 1286.5,801.8 1288.1,801.8C1289.7,801.8 1291.4,817.1 1293.0,817.1C1294.2,817.1 1295.5,816.9 1296.7,816.5C1297.1,816.4 1297.5,782.7 1297.9,782.7C1299.1,782.7 1300.4,801.8 1301.6,801.8C1303.6,801.8 1305.7,797.3 1307.7,795.6C1309.5,794.1 1311.4,791.9 1313.2,791.9C1314.2,791.9 1315.1,811.2 1316.1,819.0C1317.9,833.8 1319.8,850.5 1321.6,850.5C1322.6,850.5 1323.7,817.8 1324.7,817.4C1327.6,816.3 1330.5,815.8 1333.4,815.8C1334.7,815.8 1336.1,836.3 1337.4,836.3C1338.7,836.3 1340.0,833.7 1341.3,828.4C1342.9,821.9 1344.5,782.6 1346.1,782.6C1348.2,782.6 1350.3,782.6 1352.4,782.6C1353.7,782.6 1355.0,740.0 1356.3,740.0C1358.1,740.0 1360.0,749.5 1361.8,749.5C1363.1,749.5 1364.5,702.1 1365.8,702.1C1368.4,702.1 1371.1,702.1 1373.7,702.1C1374.7,702.1 1375.8,716.4 1376.8,721.0C1378.1,727.0 1379.5,724.2 1380.8,730.5C1382.1,736.7 1383.4,806.3 1384.7,806.3C1385.8,806.3 1386.8,778.7 1387.9,778.7C1389.5,778.7 1391.0,782.6 1392.6,782.6C1394.2,782.6 1395.8,782.1 1397.4,781.1C1398.2,780.6 1398.9,749.5 1399.7,749.5C1400.8,749.5 1401.8,782.6 1402.9,782.6C1404.0,782.6 1405.0,759.0 1406.1,759.0C1409.2,759.0 1412.4,759.0 1415.5,759.0C1416.6,759.0 1417.6,711.6 1418.7,711.6C1421.6,711.6 1424.5,711.6 1427.4,711.6C1428.4,711.6 1429.5,717.1 1430.5,717.1C1431.3,717.1 1432.1,697.4 1432.9,697.4C1433.7,697.4 1434.5,744.7 1435.3,744.7C1436.6,744.7 1437.9,702.1 1439.2,702.1C1440.0,702.1 1440.8,754.2 1441.6,754.2C1442.9,754.2 1444.2,736.8 1445.5,736.8C1446.3,736.8 1447.1,763.7 1447.9,763.7C1450.0,763.7 1452.1,744.0 1454.2,744.0C1455.5,744.0 1456.9,744.0 1458.2,744.0C1459.1,744.0 1459.9,710.8 1460.8,710.8C1461.8,710.8 1462.9,711.1 1463.9,711.6C1465.0,712.2 1466.0,721.0 1467.1,721.0C1468.2,721.0 1469.2,720.5 1470.3,719.5C1470.8,719.0 1471.3,697.4 1471.8,697.4C1474.2,697.4 1476.5,697.4 1478.9,697.4C1479.4,697.4 1480.0,739.8 1480.5,740.0C1482.1,740.5 1483.7,740.3 1485.3,740.8C1486.9,741.3 1488.4,749.5 1490.0,749.5C1490.8,749.5 1491.6,697.4 1492.4,697.4C1494.8,697.4 1497.1,697.4 1499.5,697.4C1500.3,697.4 1501.0,719.5 1501.8,719.5C1502.9,719.5 1503.9,702.1 1505.0,702.1C1506.1,702.1 1507.1,768.4 1508.2,768.4C1509.5,768.4 1510.8,766.7 1512.1,766.1C1515.0,764.7 1517.9,765.3 1520.8,763.7C1521.6,763.3 1522.4,725.0 1523.2,725.0C1524.0,725.0 1524.7,755.8 1525.5,755.8C1527.1,755.8 1528.7,755.3 1530.3,754.2C1530.8,753.9 1531.3,720.3 1531.8,720.3C1535.0,720.3 1538.1,720.3 1541.3,720.3C1542.4,720.3 1543.4,723.7 1544.5,730.5C1545.3,735.4 1546.0,773.2 1546.8,773.2C1547.9,773.2 1548.9,754.2 1550.0,754.2C1551.1,754.2 1552.1,754.2 1553.2,754.2C1554.0,754.2 1554.7,777.9 1555.5,777.9C1556.8,777.9 1558.2,772.4 1559.5,772.4C1560.5,772.4 1561.6,773.2 1562.6,774.7C1563.7,776.3 1564.7,783.4 1565.8,783.4C1566.9,783.4 1567.9,783.4 1569.0,783.4C1569.5,783.4 1570.0,764.5 1570.5,764.5C1571.8,764.5 1573.2,778.7 1574.5,778.7C1575.5,778.7 1576.6,768.7 1577.6,768.4C1579.5,767.9 1581.3,768.1 1583.2,767.6C1584.2,767.3 1585.3,758.2 1586.3,758.2C1587.1,758.2 1587.9,790.5 1588.7,791.3C1589.7,792.4 1590.8,791.8 1591.8,792.9C1592.9,794.0 1593.9,821.3 1595.0,821.3C1596.1,821.3 1597.1,806.3 1598.2,806.3C1599.2,806.3 1600.3,811.8 1601.3,819.0C1602.1,824.6 1602.9,841.1 1603.7,841.1C1604.7,841.1 1605.8,830.8 1606.8,830.8C1607.9,830.8 1608.9,840.3 1610.0,840.3C1611.3,840.3 1612.7,830.0 1614.0,830.0C1615.8,830.0 1617.7,830.0 1619.5,830.0C1620.3,830.0 1621.0,826.1 1621.8,826.1C1622.9,826.1 1623.9,837.8 1625.0,840.3C1626.3,843.4 1627.7,842.4 1629.0,845.0C1630.6,848.0 1632.1,858.3 1633.7,858.4C1635.1,858.5 1636.5,858.5 1637.9,858.6C1640.0,858.8 1642.1,858.8 1644.2,859.3C1645.8,859.7 1647.5,878.9 1649.1,878.9C1650.3,878.9 1651.4,840.4 1652.6,840.4C1654.5,840.4 1656.3,860.0 1658.2,860.0C1658.9,860.0 1659.7,842.1 1660.4,835.4C1661.3,826.9 1662.3,822.1 1663.2,817.2C1664.6,809.8 1666.0,810.1 1667.4,802.5C1668.1,798.7 1668.8,798.0 1669.5,789.1C1670.0,783.1 1670.4,758.5 1670.9,740.0C1671.2,726.8 1671.6,710.8 1671.9,697.0C1673.0,653.0 1674.0,622.6 1675.1,582.5C1675.8,557.4 1676.4,550.9 1677.1,505.0C1677.4,482.0 1677.8,443.2 1678.1,421.0C1678.6,387.7 1679.1,366.2 1679.6,360.5C1680.6,349.4 1681.5,343.9 1682.5,343.9C1683.6,343.9 1684.7,392.0 1685.8,392.0C1687.0,392.0 1688.3,338.7 1689.5,324.2C1690.5,312.5 1691.5,317.8 1692.5,305.0C1692.9,299.9 1693.3,296.7 1693.7,280.0C1694.0,267.5 1694.3,239.1 1694.6,220.0C1694.9,198.8 1695.3,176.2 1695.6,160.0C1696.3,127.7 1696.9,118.5 1697.6,109.3" fill="none" stroke="#b91f14" stroke-width="6" stroke-linejoin="round" stroke-linecap="round"/>
<circle cx="1697.6" cy="109.3" r="9.7" fill="#b91f14"/>
<g class="xl"><text x="229" y="1018">окт.</text><text x="229" y="1047.5">2020</text><text x="505" y="1018">янв.</text><text x="505" y="1047.5">2021</text><text x="775" y="1018">апр.</text><text x="1049" y="1018">июль</text><text x="1325" y="1018">окт.</text><text x="1601" y="1018">янв.</text><text x="1601" y="1047.5">2022</text></g>
<text class="ft" x="20" y="1114">Диаграмма: Telegram@Драган про ковид <tspan font-size="16" dx="1" dy="-1.5">•</tspan><tspan dx="1" dy="1.5"> Источник: Оперштаб Новосибирской области </tspan><tspan font-size="16" dx="1" dy="-1.5">•</tspan><tspan dx="1" dy="1.5"> Создано с помощью Datawrapper</tspan></text>
</svg>
</body></html>
